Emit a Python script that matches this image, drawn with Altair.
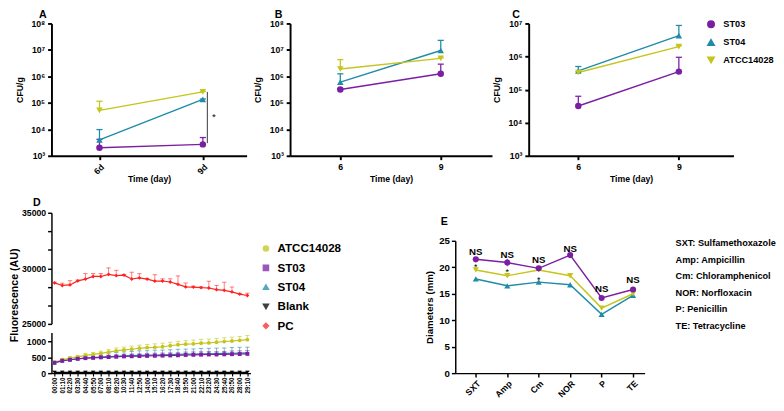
import altair as alt
import pandas as pd

FONT = "Liberation Sans"
PURPLE = "#7B1FA2"
TEAL = "#1F8BA8"
YELLOW = "#C5C51C"
RED = "#FF2222"
BLACK = "#000000"

# ---------------- Panels A-C (CFU/g) ----------------
days = [6, 9]
strains = ["ST03", "ST04", "ATCC14028"]
strain_colors = [PURPLE, TEAL, YELLOW]
strain_shapes = ["circle", "triangle-up", "triangle-down"]

A_ST03 = [2.0e3, 2.7e3]
A_ST03_up = [4.2e3, 4.9e3]
A_ST04 = [4.0e3, 1.35e5]
A_ST04_up = [9.8e3, 1.40e5]
A_ATCC = [5.2e4, 2.6e5]
A_ATCC_up = [1.15e5, 2.7e5]

B_ST03 = [3.2e5, 1.25e6]
B_ST03_up = [3.5e5, 2.9e6]
B_ST04 = [6.1e5, 9.5e6]
B_ST04_up = [1.25e6, 2.3e7]
B_ATCC = [1.9e6, 4.8e6]
B_ATCC_up = [4.3e6, 5.0e6]

C_ST03 = [3.2e4, 3.5e5]
C_ST03_up = [6.3e4, 9.5e5]
C_ST04 = [3.7e5, 4.3e6]
C_ST04_up = [5.0e5, 8.7e6]
C_ATCC = [3.3e5, 2.0e6]
C_ATCC_up = [3.5e5, 2.1e6]

A_sig_day = [9.13]
A_sig_low = [3.0e3]
A_sig_high = [2.6e5]
A_star_day = [9.32]
A_star_val = [2.9e4]

# ---------------- Panel D (fluorescence) ----------------
times = ["00:00", "01:10", "02:20", "03:30", "04:40", "05:50", "07:00", "08:10",
         "09:20", "10:30", "11:40", "12:50", "14:00", "15:10", "16:20", "17:30",
         "18:40", "19:50", "21:00", "22:10", "23:20", "24:30", "25:40", "26:50",
         "28:00", "29:10"]
d_series = ["ATCC14028", "ST03", "ST04", "Blank", "PC"]
d_colors = [YELLOW, PURPLE, TEAL, BLACK, RED]
d_shapes = ["circle", "square", "triangle-up", "triangle-down", "diamond"]

D_PC = [28690, 28460, 28510, 28870, 29030, 29270, 29270, 29460, 29350, 29390, 29040, 29140, 29030,
        28850, 28860, 28770, 28560, 28330, 28310, 28260, 28230, 28080, 28020, 27880, 27680, 27560]
D_PC_err = [60, 200, 380, 80, 500, 260, 260, 580, 470, 60, 610, 380, 60,
            580, 200, 290, 760, 350, 80, 80, 610, 380, 730, 440, 60, 200]
D_ATCC = [340, 420, 470, 510, 560, 590, 620, 660, 700, 730, 750, 780, 800,
          810, 830, 860, 890, 910, 920, 940, 950, 970, 990, 1010, 1030, 1050]
D_ATCC_err = [30, 40, 50, 50, 60, 60, 70, 80, 90, 90, 100, 100, 100,
              110, 110, 110, 110, 110, 120, 120, 120, 120, 120, 120, 120, 130]
D_ST03 = [330, 390, 420, 450, 470, 480, 495, 505, 515, 525, 530, 535, 540,
          545, 550, 555, 560, 570, 575, 580, 585, 585, 590, 595, 600, 605]
D_ST03_err = [20, 30, 30, 40, 40, 50, 50, 60, 60, 70, 70, 70, 80,
              80, 80, 80, 80, 90, 90, 90, 90, 90, 90, 100, 100, 100]
D_ST04 = [320, 380, 420, 450, 475, 490, 505, 520, 530, 540, 550, 560, 565,
          570, 575, 585, 590, 595, 600, 605, 610, 615, 620, 625, 630, 635]
D_ST04_err = [30, 50, 60, 70, 80, 90, 100, 110, 120, 130, 130, 140, 140,
              150, 150, 150, 160, 160, 160, 170, 170, 170, 170, 180, 180, 180]
D_Blank = [24, 26, 25, 25, 24, 26, 25, 25, 24, 25, 26, 25, 24,
           25, 25, 26, 24, 25, 25, 24, 26, 25, 25, 24, 25, 25]
D_Blank_err = [35, 35, 35, 35, 35, 35, 35, 35, 35, 35, 35, 35, 35,
               35, 35, 35, 35, 35, 35, 35, 35, 35, 35, 35, 35, 35]

# ---------------- Panel E (inhibition zones) ----------------
E_cats = ["SXT", "Amp", "Cm", "NOR", "P", "TE"]
E_ST03 = [21.5, 20.9, 19.8, 22.3, 14.2, 15.8]
E_ST03_err = [0.3, 0.7, 0.3, 0.3, 0.3, 0.3]
E_ATCC = [19.5, 18.4, 19.5, 18.4, 12.3, 15.0]
E_ATCC_err = [0.3, 0.3, 0.3, 0.3, 0.3, 0.3]
E_ST04 = [17.8, 16.5, 17.2, 16.7, 11.1, 14.7]
E_ST04_err = [0.2, 0.2, 0.3, 0.2, 0.2, 0.2]
E_ns_y = [22.9, 22.3, 21.4, 23.5, 15.8, 17.6]
E_star_cats = ["SXT", "Amp", "Cm"]
E_star_y = [20.4, 19.4, 17.9]
E_abbr = ["SXT: Sulfamethoxazole", "Amp: Ampicillin", "Cm: Chloramphenicol",
          "NOR: Norfloxacin", "P: Penicillin", "TE: Tetracycline"]

# ================= build =================
sup = {3: "\u00b3", 4: "\u2074", 5: "\u2075", 6: "\u2076", 7: "\u2077", 8: "\u2078"}
SUP_EXPR = "".join(f"datum.value == {10**k} ? '10{s}' : " for k, s in sup.items()) + "''"


def cfu_df(vals, ups):
    rows = []
    for s, v, u in zip(strains, vals, ups):
        for d, vi, ui in zip(days, v, u):
            rows.append({"series": s, "day": d, "value": vi, "upper": ui})
    return pd.DataFrame(rows)


def cfu_panel(df, letter, xdom, ymax_exp, width, dx, rotate, legend, extra=None):
    xs = alt.Scale(domain=xdom, nice=False, zero=False)
    ys = alt.Scale(type="log", domain=[1e3, 10 ** ymax_exp], nice=False)
    xaxis_kw = dict(values=days, title="Time (day)", titleFontSize=9, labelFontSize=9,
                    domainWidth=2, tickWidth=2, tickSize=4, titleY=20, titleBaseline="top",
                    labelPadding=3)
    if rotate:
        xaxis_kw.update(labelAngle=-45, labelExpr="datum.value + 'd'", labelAlign="right",
                        labelBaseline="top")
    xaxis = alt.Axis(**xaxis_kw)
    yaxis = alt.Axis(values=[10 ** k for k in range(3, ymax_exp + 1)], labelExpr=SUP_EXPR,
                     title="CFU/g", titleFontSize=9, labelFontSize=9, domainWidth=2,
                     tickWidth=2, tickSize=4, labelPadding=3, titlePadding=7)
    x = alt.X("day:Q", scale=xs, axis=xaxis)
    y = alt.Y("value:Q", scale=ys, axis=yaxis)
    cscale = alt.Scale(domain=strains, range=strain_colors)
    sscale = alt.Scale(domain=strains, range=strain_shapes)
    if legend:
        leg = alt.Legend(orient="none", legendX=184, legendY=-4, title=None, labelFontSize=9.5,
                         labelFont=FONT, labelFontWeight="bold", labelColor="black",
                         symbolSize=45, rowPadding=5, labelOffset=8)
    else:
        leg = None
    color = alt.Color("series:N", scale=cscale, legend=leg)
    base = alt.Chart(df)
    rules = base.mark_rule(strokeWidth=1.3).encode(x=x, y=y, y2="upper:Q", color=color)
    caps = base.mark_point(shape="stroke", size=40, strokeWidth=1.3, filled=False, opacity=1).encode(
        x=x, y=alt.Y("upper:Q", scale=ys, axis=yaxis), color=color)
    lines = base.mark_line(strokeWidth=1.5).encode(x=x, y=y, color=color)
    pts = base.mark_point(filled=True, size=45, opacity=1).encode(
        x=x, y=y, color=color,
        shape=alt.Shape("series:N", scale=sscale, legend=leg))
    layers = [rules, caps, lines, pts]
    if extra is not None:
        layers += extra(xs, ys, xaxis, yaxis)
    return alt.layer(*layers).properties(
        width=width, height=137,
        title=alt.TitleParams(letter, dx=dx, offset=0, fontSize=11))


def a_extra(xs, ys, xaxis, yaxis):
    sig = pd.DataFrame({"day": A_sig_day, "low": A_sig_low, "high": A_sig_high})
    star = pd.DataFrame({"day": A_star_day, "val": A_star_val})
    r = alt.Chart(sig).mark_rule(color="black", strokeWidth=0.8).encode(
        x=alt.X("day:Q", scale=xs, axis=xaxis), y=alt.Y("low:Q", scale=ys, axis=yaxis), y2="high:Q")
    t = alt.Chart(star).mark_text(text="*", fontSize=10, font=FONT, color="black").encode(
        x=alt.X("day:Q", scale=xs, axis=xaxis), y=alt.Y("val:Q", scale=ys, axis=yaxis))
    return [r, t]


chartA = cfu_panel(cfu_df([A_ST03, A_ST04, A_ATCC], [A_ST03_up, A_ST04_up, A_ATCC_up]),
                   "A", [4.607, 10.27], 8, 202, -13, True, False, a_extra)
chartB = cfu_panel(cfu_df([B_ST03, B_ST04, B_ATCC], [B_ST03_up, B_ST04_up, B_ATCC_up]),
                   "B", [4.5, 10.53], 8, 209, -16, False, False)
chartC = cfu_panel(cfu_df([C_ST03, C_ST04, C_ATCC], [C_ST03_up, C_ST04_up, C_ATCC_up]),
                   "C", [4.52, 10.63], 7, 212, -17, False, True)

# ---- D ----
d_rows = []
for s, vals, errs in [("ATCC14028", D_ATCC, D_ATCC_err), ("ST04", D_ST04, D_ST04_err),
                      ("ST03", D_ST03, D_ST03_err), ("Blank", D_Blank, D_Blank_err),
                      ("PC", D_PC, D_PC_err)]:
    for t, v, e in zip(times, vals, errs):
        d_rows.append({"series": s, "time": t, "value": v, "upper": v + e})
d_df = pd.DataFrame(d_rows)

d_cscale = alt.Scale(domain=d_series, range=d_colors)
d_sscale = alt.Scale(domain=d_series, range=d_shapes)
d_xscale = alt.Scale(type="point", domain=times, padding=0.4)


def d_panel(df, ydom, height, yaxis, xaxis, legend, title=None):
    ys = alt.Scale(domain=ydom, nice=False, zero=False)
    x = alt.X("time:O", scale=d_xscale, sort=times, axis=xaxis)
    y = alt.Y("value:Q", scale=ys, axis=yaxis)
    color = alt.Color("series:N", scale=d_cscale, legend=legend)
    base = alt.Chart(df)
    rules = base.mark_rule(strokeWidth=0.8, opacity=0.75).encode(x=x, y=y, y2="upper:Q", color=color)
    caps = base.mark_point(shape="stroke", size=20, strokeWidth=0.8, filled=False, opacity=0.75).encode(
        x=x, y=alt.Y("upper:Q", scale=ys, axis=yaxis), color=color)
    lines = base.mark_line(strokeWidth=1.2).encode(x=x, y=y, color=color)
    pts = base.mark_point(filled=True, size=16, opacity=1).encode(
        x=x, y=y, color=color,
        shape=alt.Shape("series:N", scale=d_sscale, legend=legend))
    ch = alt.layer(rules, caps, lines, pts).properties(width=206, height=height)
    if title is not None:
        ch = ch.properties(title=title)
    return ch


d_leg = alt.Legend(orient="none", legendX=216, legendY=31, title=None, labelFontSize=12,
                   labelFont=FONT, labelFontWeight="bold", labelColor="black",
                   symbolSize=28, rowPadding=8, labelOffset=6)
top_vals = [25000, 26666.667, 28333.333, 30000, 31666.667, 33333.333, 35000]
Dtop = d_panel(
    d_df[d_df.series == "PC"], [25000, 35000], 115,
    alt.Axis(values=top_vals, labelExpr="datum.value % 5000 == 0 ? format(datum.value, 'd') : ''",
             title="Fluorescence (AU)", titleFontSize=11, titleY=85, titlePadding=2,
             labelFontSize=9, domainWidth=1.5, tickWidth=1.5, tickSize=4, labelPadding=2),
    None, d_leg,
    alt.TitleParams("D", dx=-19, offset=1, fontSize=11))
Dbot = d_panel(
    d_df[d_df.series != "PC"], [0, 1273], 42,
    alt.Axis(values=[0, 500, 1000], format="d", title=None, labelFontSize=9, domainWidth=1.5,
             tickWidth=1.5, tickSize=4, labelPadding=2),
    alt.Axis(title=None, labelAngle=-90, labelFontSize=6.5, labelPadding=1, tickSize=3,
             labelAlign="right", labelBaseline="middle", domainWidth=1.5, tickWidth=1.2),
    None)
D_col = alt.vconcat(Dtop, Dbot, spacing=9, bounds="flush").resolve_scale(
    color="independent", shape="independent")

# ---- E ----
e_rows = []
for s, vals, errs in [("ST04", E_ST04, E_ST04_err), ("ATCC14028", E_ATCC, E_ATCC_err),
                      ("ST03", E_ST03, E_ST03_err)]:
    for c, v, e in zip(E_cats, vals, errs):
        e_rows.append({"series": s, "cat": c, "value": v, "lo": v - e, "hi": v + e})
e_df = pd.DataFrame(e_rows)

e_xs = alt.Scale(type="point", domain=E_cats, padding=0.51, align=0.64)
e_ys = alt.Scale(domain=[0, 25], nice=False)
e_xaxis = alt.Axis(title=None, labelAngle=-45, labelAlign="right", labelBaseline="top",
                   labelFontSize=9, domainWidth=1.5, tickWidth=1.5, tickSize=4, labelPadding=2)
e_yaxis = alt.Axis(values=[0, 5, 10, 15, 20, 25], title="Diameters (mm)", titleFontSize=10,
                   labelFontSize=10, domainWidth=1.5, tickWidth=1.5, tickSize=4,
                   labelPadding=2, titlePadding=4)
ex = alt.X("cat:N", scale=e_xs, sort=E_cats, axis=e_xaxis)
ey = alt.Y("value:Q", scale=e_ys, axis=e_yaxis)
e_cscale = alt.Scale(domain=strains, range=strain_colors)
e_sscale = alt.Scale(domain=strains, range=strain_shapes)
e_color = alt.Color("series:N", scale=e_cscale, legend=None)
eb = alt.Chart(e_df)
e_lines = eb.mark_line(strokeWidth=1.5).encode(x=ex, y=ey, color=e_color)
e_rules = eb.mark_rule(strokeWidth=1).encode(
    x=ex, y=alt.Y("lo:Q", scale=e_ys, axis=e_yaxis), y2="hi:Q", color=e_color)
e_pts = eb.mark_point(filled=True, size=40, opacity=1).encode(
    x=ex, y=ey, color=e_color, shape=alt.Shape("series:N", scale=e_sscale, legend=None))
ns_df = pd.DataFrame({"cat": E_cats, "y": E_ns_y})
e_ns = alt.Chart(ns_df).mark_text(text="NS", fontSize=10, font=FONT, fontWeight="bold",
                                  color="black", baseline="middle").encode(
    x=alt.X("cat:N", scale=e_xs, sort=E_cats, axis=e_xaxis),
    y=alt.Y("y:Q", scale=e_ys, axis=e_yaxis))
star_df = pd.DataFrame({"cat": E_star_cats, "y": E_star_y})
e_star = alt.Chart(star_df).mark_text(text="*", fontSize=9, font=FONT, color="black",
                                      baseline="middle", dy=2).encode(
    x=alt.X("cat:N", scale=e_xs, sort=E_cats, axis=e_xaxis),
    y=alt.Y("y:Q", scale=e_ys, axis=e_yaxis))
e_main = alt.layer(e_lines, e_rules, e_pts, e_ns, e_star)
abbr_df = pd.DataFrame({"idx": list(range(len(E_abbr))), "txt": E_abbr})
e_abbr = alt.Chart(abbr_df).mark_text(align="left", baseline="middle", fontSize=9.5, font=FONT,
                                      fontWeight="bold", color="black").encode(
    x=alt.value(228),
    y=alt.Y("idx:O", scale=alt.Scale(type="point", range=[2.5, 88], padding=0), axis=None),
    text="txt:N")
chartE = alt.layer(e_main, e_abbr).resolve_scale(y="independent").properties(
    width=196, height=137,
    title=alt.TitleParams("E", dx=-15, offset=9, fontSize=11))
spacer = alt.Chart(pd.DataFrame({"v": [0]})).mark_point(opacity=0).encode(
    x=alt.X("v:Q", axis=None), y=alt.Y("v:Q", axis=None)).properties(width=196, height=2)
E_col = alt.vconcat(spacer, chartE, spacing=0)

top_row = alt.hconcat(
    alt.hconcat(chartA, chartB, spacing=7).resolve_scale(color="independent", shape="independent"),
    chartC, spacing=0).resolve_scale(color="independent", shape="independent")
bottom_row = alt.hconcat(D_col, E_col, spacing=86).resolve_scale(
    color="independent", shape="independent")

chart = alt.vconcat(top_row, bottom_row, spacing=14).resolve_scale(
    color="independent", shape="independent").properties(
    padding={"left": 0, "top": -6, "right": 0, "bottom": 0}
).configure(font=FONT).configure_view(stroke=None).configure_axis(
    grid=False, domainColor="black", tickColor="black", labelColor="black", titleColor="black",
    labelFont=FONT, titleFont=FONT, labelFontWeight="bold", titleFontWeight="bold",
    labelOverlap=False
).configure_title(font=FONT, fontWeight="bold", anchor="start", frame="group", color="black")

chart.save("out.html", embed_options={"renderer": "svg", "actions": False})
